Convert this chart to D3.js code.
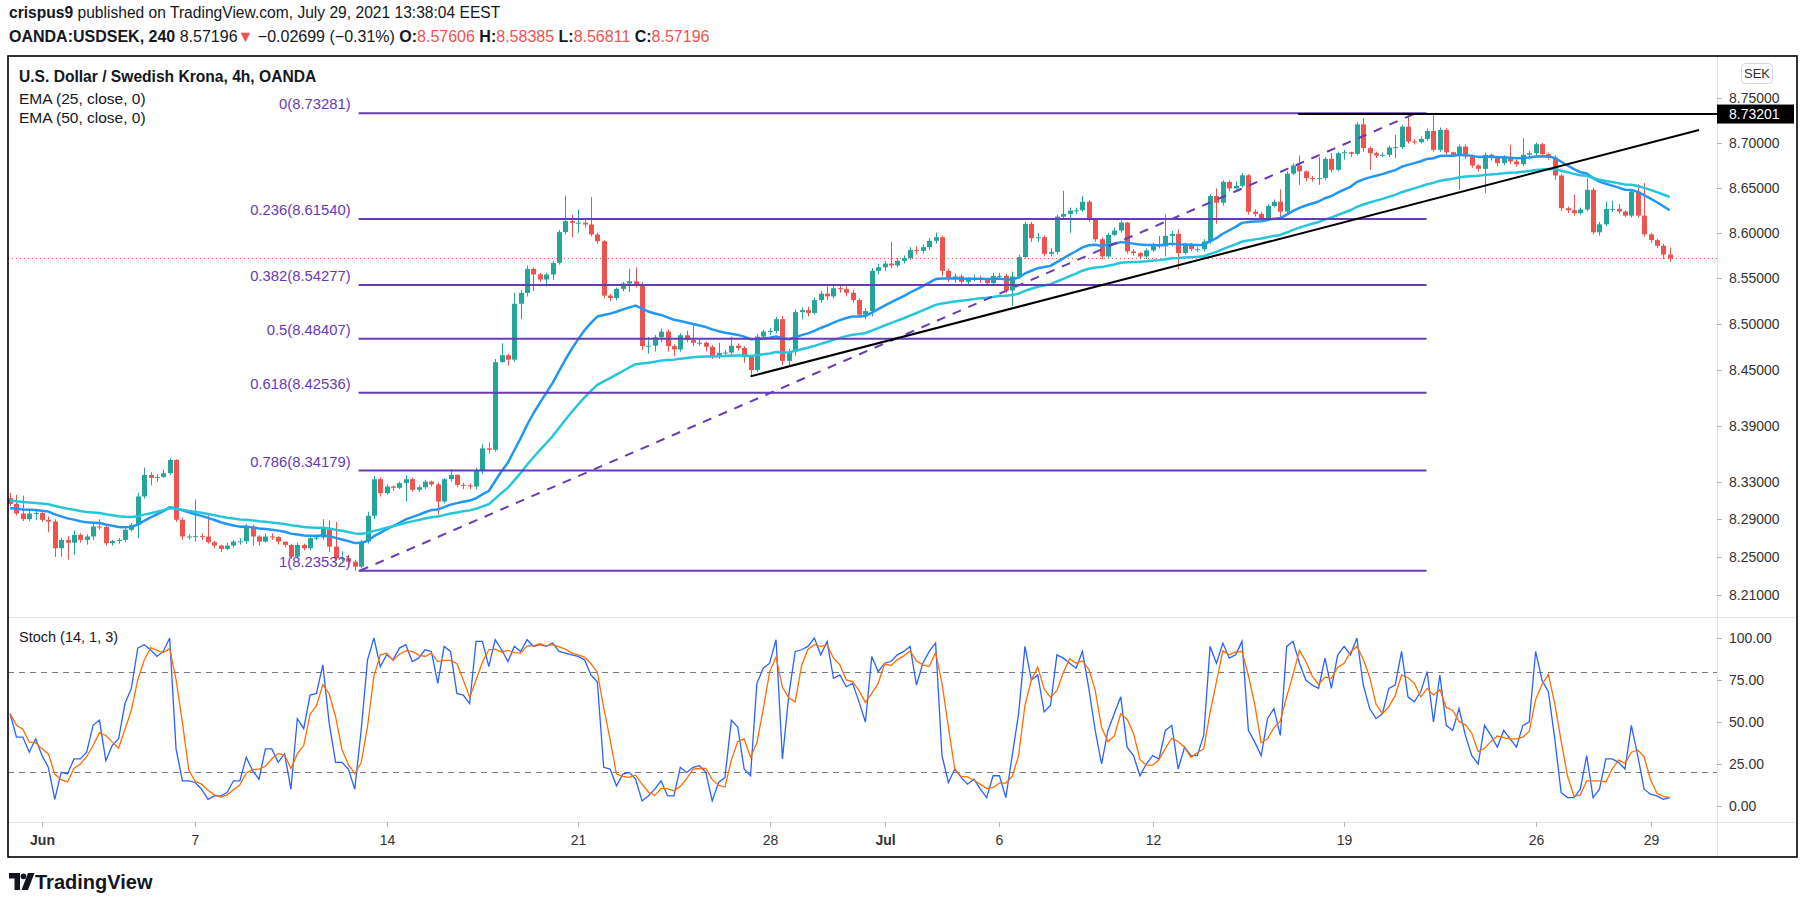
<!DOCTYPE html>
<html><head><meta charset="utf-8">
<script src="https://cdn.jsdelivr.net/npm/d3@7"></script>
<style>
html,body{margin:0;padding:0;background:#fff;}
svg{display:block;font-family:"Liberation Sans",Arial,sans-serif;}
</style></head><body>
<svg id="chart" width="1805" height="904"></svg>
<script>
// ---------- DATA (4h bars; bar index 0 = Jun 1 00:00, first visible bar = -5) ----------
const firstBar = -5;
const firstOpen = 8.3124;
const closes = [
8.3063,8.2960,8.2900,8.2960,8.2965,
8.2893,8.2875,8.2591,8.2680,8.2650,8.2733,8.2680,8.2716,8.2822,8.2818,
8.2645,8.2668,8.2680,8.2787,8.2840,8.3142,8.3372,8.3340,8.3350,8.3390,
8.3532,8.2893,8.2716,8.2716,8.2720,8.2716,8.2655,8.2620,8.2584,8.2620,
8.2662,8.2665,8.2822,8.2716,8.2662,8.2716,8.2710,8.2662,8.2627,8.2503,
8.2627,8.2591,8.2698,8.2705,8.2804,8.2609,8.2485,8.2485,8.2449,8.2396,
8.2662,8.2936,8.3326,8.3177,8.3248,8.3234,8.3284,8.3326,8.3213,8.3240,
8.3300,8.3270,8.3088,8.3326,8.3372,8.3265,8.3260,8.3248,8.3418,8.3656,
8.3640,8.4586,8.4661,8.4613,8.5222,8.5340,8.5604,8.5542,8.5487,8.5542,
8.5670,8.6008,8.6129,8.6110,8.6112,8.6092,8.5982,8.5908,8.5311,8.5285,
8.5384,8.5443,8.5468,8.5432,8.4760,8.4764,8.4856,8.4918,8.4760,8.4724,
8.4878,8.4826,8.4797,8.4797,8.4753,8.4643,8.4687,8.4690,8.4764,8.4740,
8.4643,8.4500,8.4863,8.4918,8.4925,8.5054,8.4600,8.4700,8.5130,8.5152,
8.5122,8.5262,8.5332,8.5302,8.5392,8.5382,8.5342,8.5262,8.5102,8.5142,
8.5582,8.5622,8.5662,8.5642,8.5692,8.5722,8.5812,8.5802,8.5842,8.5912,
8.5952,8.5582,8.5492,8.5522,8.5462,8.5482,8.5500,8.5483,8.5447,8.5527,
8.5527,8.5366,8.5520,8.5733,8.6099,8.5941,8.5952,8.5769,8.5790,8.6179,
8.6209,8.6245,8.6250,8.6344,8.6150,8.5930,8.5740,8.5978,8.6026,8.6114,
8.5795,8.5777,8.5740,8.5806,8.5868,8.5850,8.5967,8.5989,8.5777,8.5868,
8.5820,8.5820,8.5905,8.6407,8.6333,8.6564,8.6491,8.6520,8.6637,8.6234,
8.6209,8.6150,8.6297,8.6344,8.6234,8.6656,8.6747,8.6680,8.6606,8.6600,
8.6606,8.6820,8.6698,8.6883,8.6894,8.6876,8.7205,8.6939,8.6883,8.6857,
8.6865,8.6946,8.6950,8.7179,8.7013,8.7005,8.7042,8.7131,8.6920,8.7142,
8.6894,8.6865,8.6957,8.6846,8.6746,8.6709,8.6865,8.6828,8.6772,8.6834,
8.6791,8.6761,8.6865,8.6883,8.6983,8.6872,8.6835,8.6635,8.6272,8.6250,
8.6217,8.6258,8.6476,8.6006,8.6094,8.6265,8.6265,8.6235,8.6190,8.6457,
8.6190,8.5983,8.5920,8.5858,8.5761,8.57196];
const highs = [
8.3180,8.3160,8.3150,8.2990,8.3000,
8.2980,8.2930,8.2900,8.2700,8.2720,8.2780,8.2750,8.2740,8.2860,8.2900,
8.2840,8.2680,8.2700,8.2810,8.2860,8.3180,8.3450,8.3400,8.3380,8.3430,
8.3550,8.3540,8.2920,8.2740,8.3110,8.2750,8.2940,8.2670,8.2630,8.2650,
8.2680,8.2700,8.2850,8.2840,8.2730,8.2750,8.2750,8.2720,8.2660,8.2640,
8.2650,8.2640,8.2720,8.2740,8.2900,8.2890,8.2870,8.2560,8.2520,8.2470,
8.2680,8.2980,8.3360,8.3345,8.3270,8.3260,8.3300,8.3370,8.3340,8.3260,
8.3320,8.3310,8.3290,8.3340,8.3430,8.3380,8.3290,8.3280,8.3450,8.3700,
8.3720,8.4620,8.4790,8.4680,8.5340,8.5370,8.5640,8.5620,8.5560,8.5560,
8.5690,8.6030,8.6411,8.6200,8.6260,8.6140,8.6396,8.6000,8.5920,8.5330,
8.5400,8.5460,8.5604,8.5620,8.5460,8.4860,8.4880,8.4950,8.4940,8.4780,
8.4900,8.4929,8.4990,8.4830,8.4810,8.4770,8.4797,8.4720,8.4863,8.4790,
8.4760,8.4660,8.4890,8.4940,8.4960,8.5080,8.5090,8.4730,8.5160,8.5182,
8.5192,8.5292,8.5362,8.5412,8.5437,8.5422,8.5412,8.5372,8.5282,8.5172,
8.5612,8.5662,8.5692,8.5902,8.5722,8.5752,8.5842,8.5852,8.5872,8.5942,
8.6002,8.5972,8.5602,8.5552,8.5542,8.5512,8.5540,8.5530,8.5500,8.5560,
8.5560,8.5550,8.5575,8.5760,8.6120,8.6120,8.6000,8.5970,8.5830,8.6200,
8.6465,8.6280,8.6280,8.6410,8.6360,8.6165,8.5950,8.6000,8.6060,8.6135,
8.6120,8.5820,8.5790,8.5830,8.5890,8.5967,8.6205,8.6020,8.6040,8.5890,
8.5890,8.5850,8.5930,8.6430,8.6491,8.6580,8.6582,8.6570,8.6660,8.6650,
8.6260,8.6230,8.6320,8.6370,8.6480,8.6680,8.6770,8.6857,8.6690,8.6630,
8.6839,8.6840,8.6883,8.6900,8.6920,8.6900,8.7230,8.7272,8.6960,8.6900,
8.6890,8.6970,8.7087,8.7200,8.7328,8.7040,8.7070,8.7160,8.7325,8.7170,
8.7160,8.6900,8.6980,8.6980,8.6870,8.6760,8.6890,8.6880,8.6840,8.6860,
8.6976,8.6810,8.7050,8.6910,8.7000,8.7000,8.6890,8.6860,8.6650,8.6290,
8.6421,8.6280,8.6606,8.6500,8.6120,8.6347,8.6355,8.6317,8.6250,8.6480,
8.6538,8.6550,8.6000,8.5935,8.5880,8.58385];
const lows = [
8.3040,8.2940,8.2880,8.2880,8.2890,
8.2870,8.2760,8.2500,8.2500,8.2470,8.2520,8.2650,8.2630,8.2680,8.2790,
8.2620,8.2620,8.2640,8.2660,8.2770,8.2700,8.3120,8.3260,8.3300,8.3340,
8.3370,8.2870,8.2680,8.2680,8.2660,8.2680,8.2640,8.2590,8.2550,8.2570,
8.2600,8.2630,8.2640,8.2620,8.2620,8.2650,8.2680,8.2630,8.2600,8.2480,
8.2490,8.2570,8.2570,8.2680,8.2680,8.2550,8.2460,8.2450,8.2400,8.23532,
8.2378,8.2640,8.2900,8.3140,8.3160,8.3200,8.3220,8.3090,8.3190,8.3190,
8.3220,8.3250,8.2950,8.3070,8.3300,8.3240,8.3220,8.3220,8.3220,8.3380,
8.3600,8.3620,8.4580,8.4550,8.4590,8.5054,8.5300,8.5360,8.5460,8.5410,
8.5480,8.5650,8.5980,8.5950,8.6000,8.6060,8.5960,8.5880,8.5280,8.5250,
8.5260,8.5360,8.5350,8.5400,8.4720,8.4680,8.4700,8.4800,8.4700,8.4650,
8.4700,8.4800,8.4760,8.4760,8.4700,8.4620,8.4620,8.4660,8.4660,8.4710,
8.4580,8.4432,8.4480,8.4840,8.4880,8.4900,8.4550,8.4545,8.4660,8.5052,
8.5082,8.5102,8.5232,8.5262,8.5282,8.5342,8.5302,8.5232,8.5072,8.5052,
8.5082,8.5542,8.5582,8.5612,8.5622,8.5662,8.5702,8.5762,8.5772,8.5812,
8.5882,8.5522,8.5462,8.5452,8.5432,8.5422,8.5470,8.5450,8.5420,8.5430,
8.5500,8.5340,8.5198,8.5500,8.5720,8.5900,8.5900,8.5740,8.5740,8.5760,
8.6160,8.6000,8.6210,8.6230,8.6120,8.5900,8.5710,8.5715,8.5965,8.6000,
8.5770,8.5750,8.5710,8.5711,8.5790,8.5830,8.5740,8.5850,8.5601,8.5760,
8.5800,8.5790,8.5795,8.5880,8.6100,8.6300,8.6460,8.6480,8.6500,8.6200,
8.6180,8.6130,8.6140,8.6280,8.6143,8.6220,8.6640,8.6530,8.6570,8.6566,
8.6531,8.6580,8.6670,8.6680,8.6810,8.6840,8.6860,8.6900,8.6698,8.6830,
8.6840,8.6840,8.6827,8.6930,8.6990,8.6980,8.6990,8.7020,8.6900,8.6900,
8.6870,8.6840,8.6476,8.6820,8.6720,8.6680,8.6439,8.6800,8.6740,8.6750,
8.6760,8.6730,8.6740,8.6840,8.6860,8.6850,8.6810,8.6587,8.6240,8.6220,
8.6190,8.6200,8.6240,8.5980,8.5970,8.6070,8.6230,8.6210,8.6170,8.6170,
8.6170,8.5960,8.5890,8.5830,8.5710,8.56811];
// Stochastic %K (14,1,3)
const stochK = [
55,41,41,32,40,
30,23,4,20,19,28,28,32,48,51,
27,36,40,61,70,94,96,93,89,92,
100,34,15,15,14,10,4,6,6,8,
15,15,29,21,16,34,34,26,31,10,
52,46,66,67,84,49,26,26,22,10,
45,87,100,83,90,87,94,96,86,88,
93,92,73,95,92,67,66,61,98,98,
83,99,93,86,95,92,99,95,96,95,
97,92,91,90,89,87,78,74,23,22,
12,19,20,16,3,6,10,15,6,6,
23,20,23,24,20,3,14,17,51,47,
22,18,73,82,85,99,28,66,92,93,
95,100,90,98,76,78,71,73,62,50,
89,80,85,86,90,92,95,72,85,92,
97,30,14,22,17,13,16,10,5,18,
18,5,30,55,95,75,78,56,60,90,
88,85,82,92,70,45,25,45,55,65,
35,30,18,25,30,28,45,48,22,35,
30,30,42,95,85,97,88,90,98,45,
38,30,52,58,42,95,98,85,75,72,
70,88,70,90,95,90,100,72,58,52,
55,70,72,92,65,62,68,80,50,78,
48,45,58,42,30,25,48,42,35,45,
40,35,48,50,92,75,68,40,8,5,
5,10,30,5,10,28,28,26,22,48,
30,10,7,6,4,5];
const emaSeeds = [8.3017, 8.3095];          // EMA25, EMA50 at first visible bar
const emaPeriods = [25, 50];
const fibRatios = ["0","0.236","0.382","0.5","0.618","0.786","1"];
const fibPrices = [8.73281,8.61540,8.54277,8.48407,8.42536,8.34179,8.23532];
const fibSpan = [49.6, 216.9];
const fibDiagonal = [[49.8, 8.23532],[215.2, 8.73281]];
const trendLine = [[111, 8.4432],[259.6, 8.7142]];
const hLine = {start: 196.8, price: 8.73201};
const lastPrice = 8.57196;
const priceTicks = [8.75,8.70,8.65,8.60,8.55,8.50,8.45,8.39,8.33,8.29,8.25,8.21];
const stochTicks = [100,75,50,25,0];
const stochBands = [80,20];
const dateTickBars = [0,24,54,84,114,132,150,174,204,234,252];
const dateTickLabels = ["Jun","7","14","21","28","Jul","6","12","19","26","29"];

// ---------- LAYOUT ----------
const L = 8, T = 56, R = 1797, B = 857, AX = 1717, PSEP = 617, XAX = 822;
const UP = "#26a69a", DN = "#ef5350", FIB = "#673ab7", TXT = "#131722", GRID = "#e0e3eb";

const svg = d3.select("#chart");
const x = d3.scaleLinear().domain([0, 255]).range([42, 42 + 255 * 6.383]);
const y = d3.scaleLog().domain([8.21, 8.75]).range([594.8, 98]);   // logarithmic price scale
const ys = d3.scaleLinear().domain([0, 100]).range([806, 638]);

const defs = svg.append("defs");
defs.append("clipPath").attr("id","cp").append("rect").attr("x",L).attr("y",T).attr("width",AX-L).attr("height",PSEP-T);
defs.append("clipPath").attr("id","cs").append("rect").attr("x",L).attr("y",PSEP).attr("width",AX-L).attr("height",XAX-PSEP);

const bars = closes.map((c, k) => ({
  i: firstBar + k, o: k ? closes[k-1] : firstOpen, c, h: highs[k], l: lows[k]
}));

// separators
svg.append("line").attr("x1",L).attr("x2",R).attr("y1",PSEP+0.5).attr("y2",PSEP+0.5).attr("stroke",GRID);
svg.append("line").attr("x1",L).attr("x2",R).attr("y1",XAX+0.5).attr("y2",XAX+0.5).attr("stroke",GRID);
svg.append("line").attr("x1",AX+0.5).attr("x2",AX+0.5).attr("y1",T).attr("y2",B).attr("stroke",GRID);

// ---------- PRICE PANE ----------
const gp = svg.append("g").attr("clip-path","url(#cp)");
gp.append("line").attr("x1",L).attr("x2",AX).attr("y1",Math.round(y(lastPrice))+0.5).attr("y2",Math.round(y(lastPrice))+0.5)
  .attr("stroke",DN).attr("stroke-dasharray","1,3");

const cg = gp.append("g");
bars.forEach(b => {
  const col = b.c >= b.o ? UP : DN;
  const xc = Math.round(x(b.i));
  cg.append("line").attr("x1",xc+0.5).attr("x2",xc+0.5).attr("y1",y(b.h)).attr("y2",y(b.l)).attr("stroke",col).attr("stroke-width",1);
  const top = y(Math.max(b.o,b.c)), bot = y(Math.min(b.o,b.c));
  cg.append("rect").attr("x",xc-2).attr("width",5).attr("y",top).attr("height",Math.max(1,bot-top)).attr("fill",col);
});

// EMAs
const emaColors = ["#2196f3","#26c6da"];
emaPeriods.forEach((p, j) => {
  const a = 2/(p+1); let e = emaSeeds[j];
  const vals = bars.map((b, k) => { if (k) e = a*b.c + (1-a)*e; return {i:b.i, v:e}; });
  gp.append("path").datum(vals).attr("fill","none").attr("stroke",emaColors[j]).attr("stroke-width",2.5)
    .attr("stroke-linejoin","round").attr("d", d3.line().x(d=>x(d.i)).y(d=>y(d.v)));
});

// Fib levels
fibPrices.forEach((p, k) => {
  const yy = y(p);
  gp.append("line").attr("x1",x(fibSpan[0])).attr("x2",x(fibSpan[1])).attr("y1",yy).attr("y2",yy).attr("stroke",FIB).attr("stroke-width",2);
  gp.append("text").attr("x",x(fibSpan[0])-8).attr("y",yy-4).attr("text-anchor","end").attr("fill",FIB)
    .attr("font-size","14.8px").text(fibRatios[k] + "(" + p.toFixed(5) + ")");
});
gp.append("line").attr("x1",x(fibDiagonal[0][0])).attr("y1",y(fibDiagonal[0][1])).attr("x2",x(fibDiagonal[1][0])).attr("y2",y(fibDiagonal[1][1]))
  .attr("stroke",FIB).attr("stroke-width",2).attr("stroke-dasharray","9,8");
gp.append("line").attr("x1",x(trendLine[0][0])).attr("y1",y(trendLine[0][1])).attr("x2",x(trendLine[1][0])).attr("y2",y(trendLine[1][1]))
  .attr("stroke","#000").attr("stroke-width",2);
gp.append("line").attr("x1",x(hLine.start)).attr("x2",AX).attr("y1",y(hLine.price)).attr("y2",y(hLine.price)).attr("stroke","#000").attr("stroke-width",2);

// price axis
priceTicks.forEach(p => {
  const yy = Math.round(y(p))+0.5;
  svg.append("line").attr("x1",AX).attr("x2",AX+5).attr("y1",yy).attr("y2",yy).attr("stroke","#b2b5be");
  svg.append("text").attr("x",AX+12).attr("y",yy).attr("dy","0.35em").attr("fill","#333").attr("font-size","14px").text(p.toFixed(5));
});
const ym = y(hLine.price);
svg.append("rect").attr("x",AX).attr("y",ym-9.5).attr("width",R-AX-3).attr("height",19).attr("fill","#000");
svg.append("text").attr("x",AX+12).attr("y",ym).attr("dy","0.36em").attr("fill","#fff").attr("font-size","14px").text(hLine.price.toFixed(5));
svg.append("rect").attr("x",1741.5).attr("y",63.5).attr("width",31).attr("height",20).attr("rx",4).attr("fill","#fff").attr("stroke","#d1d4dc");
svg.append("text").attr("x",1757).attr("y",73.5).attr("dy","0.36em").attr("text-anchor","middle").attr("font-size","13px").attr("fill","#333").text("SEK");

// ---------- STOCH PANE ----------
const gs = svg.append("g").attr("clip-path","url(#cs)");
stochBands.forEach(v => {
  gs.append("line").attr("x1",L).attr("x2",AX).attr("y1",Math.round(ys(v))+0.5).attr("y2",Math.round(ys(v))+0.5)
    .attr("stroke","#787b86").attr("stroke-dasharray","6,5");
});
const kPts = stochK.map((v,k) => ({i:firstBar+k, v}));
const dPts = stochK.map((v,k) => ({i:firstBar+k, v: d3.mean(stochK.slice(Math.max(0,k-2), k+1))}));
const sl = d3.line().x(d=>x(d.i)).y(d=>ys(d.v));
gs.append("path").datum(kPts).attr("fill","none").attr("stroke","#2962ff").attr("stroke-width",1.3).attr("d",sl);
gs.append("path").datum(dPts).attr("fill","none").attr("stroke","#ff6d00").attr("stroke-width",1.3).attr("d",sl);
stochTicks.forEach(v => {
  const yy = Math.round(ys(v))+0.5;
  svg.append("line").attr("x1",AX).attr("x2",AX+5).attr("y1",yy).attr("y2",yy).attr("stroke","#b2b5be");
  svg.append("text").attr("x",AX+12).attr("y",yy).attr("dy","0.35em").attr("fill","#333").attr("font-size","14px").text(v.toFixed(2));
});
svg.append("text").attr("x",19).attr("y",642).attr("fill",TXT).attr("font-size","14.5px").text("Stoch (14, 1, 3)");

// ---------- TIME AXIS ----------
dateTickBars.forEach((b,k) => {
  const xx = Math.round(x(b))+0.5;
  svg.append("line").attr("x1",xx).attr("x2",xx).attr("y1",XAX).attr("y2",XAX+5).attr("stroke","#b2b5be");
  svg.append("text").attr("x",xx).attr("y",845).attr("text-anchor","middle").attr("fill","#333").attr("font-size","14px")
    .attr("font-weight", dateTickLabels[k]==="Jun"||dateTickLabels[k]==="Jul" ? "bold" : "normal").text(dateTickLabels[k]);
});

// ---------- FRAME & TEXT ----------
svg.append("rect").attr("x",L).attr("y",T).attr("width",R-L).attr("height",B-T).attr("fill","none").attr("stroke","#000").attr("stroke-width",1.6);

const h1 = svg.append("text").attr("x",9).attr("y",18).attr("font-size","15.6px").attr("fill",TXT);
h1.append("tspan").attr("font-weight","bold").text("crispus9");
h1.append("tspan").text(" published on TradingView.com, July 29, 2021 13:38:04 EEST");
const h2 = svg.append("text").attr("x",9).attr("y",42).attr("font-size","16px").attr("fill",TXT);
h2.append("tspan").attr("font-weight","bold").text("OANDA:USDSEK, 240");
h2.append("tspan").text(" 8.57196");
h2.append("tspan").attr("fill",DN).text("▼");
h2.append("tspan").text(" −0.02699 (−0.31%) ");
[["O:","8.57606"],["H:","8.58385"],["L:","8.56811"],["C:","8.57196"]].forEach(([k,v],j) => {
  h2.append("tspan").attr("font-weight","bold").text((j? " ":"") + k);
  h2.append("tspan").attr("fill",DN).text(v);
});
svg.append("text").attr("x",19).attr("y",82).attr("font-size","15.6px").attr("font-weight","bold").attr("fill",TXT).text("U.S. Dollar / Swedish Krona, 4h, OANDA");
svg.append("text").attr("x",19).attr("y",104).attr("font-size","15.5px").attr("fill",TXT).text("EMA (25, close, 0)");
svg.append("text").attr("x",19).attr("y",123).attr("font-size","15.5px").attr("fill",TXT).text("EMA (50, close, 0)");

// logo
const lg = svg.append("g").attr("fill","#131722");
lg.append("path").attr("d","M9,873 H20 V890 H14.5 V878.5 H9 Z");
lg.append("circle").attr("cx",23.5).attr("cy",876.3).attr("r",2.9);
lg.append("path").attr("d","M28,873 H34.5 L28,890 H21.5 Z");
svg.append("text").attr("x",35).attr("y",889).attr("font-size","20px").attr("font-weight","bold").attr("fill","#131722").text("TradingView");
</script></body></html>
